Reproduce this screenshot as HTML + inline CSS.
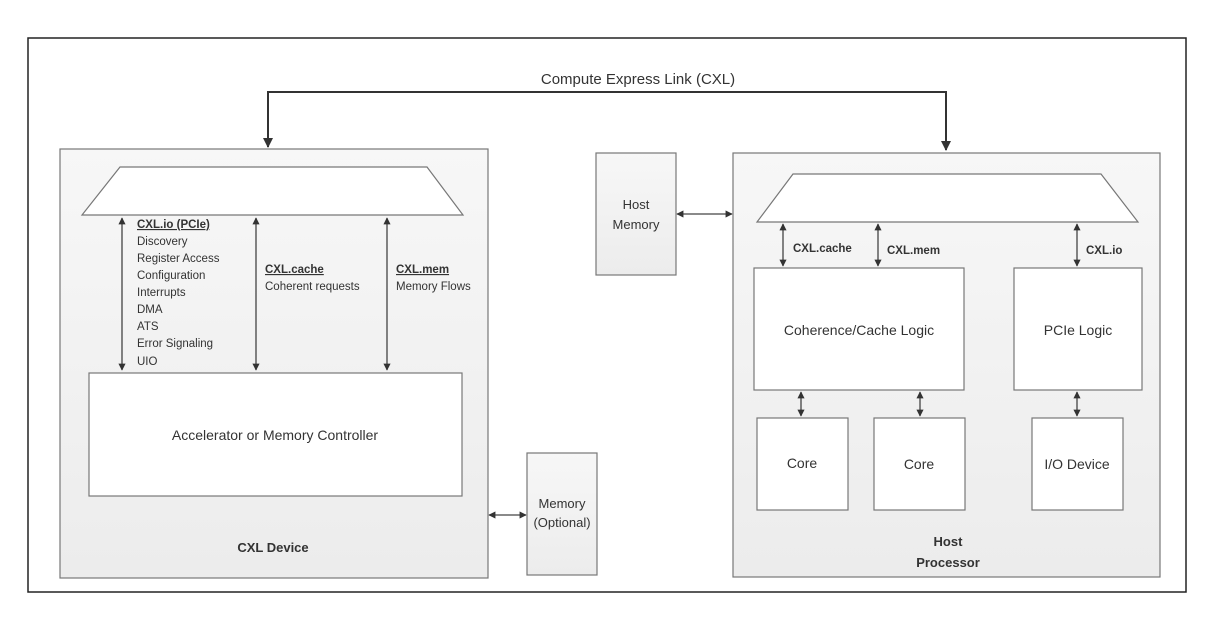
<!DOCTYPE html>
<html><head><meta charset="utf-8"><style>
html,body{margin:0;padding:0;background:#fff;}
svg{display:block;}
text{font-family:"Liberation Sans",sans-serif;fill:#333;}
</style></head><body>
<svg width="1218" height="626" viewBox="0 0 1218 626" xmlns="http://www.w3.org/2000/svg">
<defs>
<linearGradient id="g" x1="0" y1="0" x2="0" y2="1"><stop offset="0" stop-color="#f7f7f7"/><stop offset="1" stop-color="#ececec"/></linearGradient>
<marker id="a" viewBox="0 0 10 10" refX="9" refY="5" markerWidth="5" markerHeight="5" orient="auto-start-reverse"><path d="M0,0L10,5L0,10z" fill="#333"/></marker>
<marker id="b" viewBox="0 0 10 10" refX="9" refY="5" markerWidth="5.5" markerHeight="5.5" orient="auto-start-reverse"><path d="M0,0L10,5L0,10z" fill="#333"/></marker>
</defs>
<rect x="28" y="38" width="1158" height="554" fill="#fff" stroke="#222" stroke-width="1.5"/>
<polyline points="268,147 268,92 946,92 946,150" fill="none" stroke="#333" stroke-width="2" marker-end="url(#a)"/>
<line x1="268" y1="93" x2="268" y2="147" stroke="#333" stroke-width="2" marker-end="url(#a)"/>
<text x="638" y="84" font-size="15" text-anchor="middle">Compute Express Link (CXL)</text>
<rect x="60" y="149" width="428" height="429" fill="url(#g)" stroke="#777" stroke-width="1.2"/>
<polygon points="120,167 427,167 463,215 82,215" fill="#fff" stroke="#777" stroke-width="1.2"/>
<g stroke="#444" stroke-width="1.3" marker-start="url(#b)" marker-end="url(#b)">
<line x1="122" y1="218" x2="122" y2="370"/>
<line x1="256" y1="218" x2="256" y2="370"/>
<line x1="387" y1="218" x2="387" y2="370"/>
</g>
<g font-size="11.5">
<text x="137" y="228" font-weight="bold" text-decoration="underline">CXL.io (PCIe)</text>
<text x="137" y="245">Discovery</text>
<text x="137" y="262">Register Access</text>
<text x="137" y="279">Configuration</text>
<text x="137" y="296">Interrupts</text>
<text x="137" y="313">DMA</text>
<text x="137" y="330">ATS</text>
<text x="137" y="347">Error Signaling</text>
<text x="137" y="365">UIO</text>
<text x="265" y="273" font-weight="bold" text-decoration="underline">CXL.cache</text>
<text x="265" y="290">Coherent requests</text>
<text x="396" y="273" font-weight="bold" text-decoration="underline">CXL.mem</text>
<text x="396" y="290">Memory Flows</text>
</g>
<rect x="89" y="373" width="373" height="123" fill="#fff" stroke="#777" stroke-width="1.2"/>
<text x="275" y="440" font-size="14" text-anchor="middle">Accelerator or Memory Controller</text>
<text x="273" y="552" font-size="13" font-weight="bold" text-anchor="middle">CXL Device</text>
<rect x="527" y="453" width="70" height="122" fill="url(#g)" stroke="#777" stroke-width="1.2"/>
<text x="562" y="508" font-size="13" text-anchor="middle">Memory</text>
<text x="562" y="527" font-size="13" text-anchor="middle">(Optional)</text>
<line x1="489" y1="515" x2="526" y2="515" stroke="#444" stroke-width="1.3" marker-start="url(#b)" marker-end="url(#b)"/>
<rect x="596" y="153" width="80" height="122" fill="url(#g)" stroke="#777" stroke-width="1.2"/>
<text x="636" y="209" font-size="13" text-anchor="middle">Host</text>
<text x="636" y="229" font-size="13" text-anchor="middle">Memory</text>
<line x1="677" y1="214" x2="732" y2="214" stroke="#444" stroke-width="1.3" marker-start="url(#b)" marker-end="url(#b)"/>
<rect x="733" y="153" width="427" height="424" fill="url(#g)" stroke="#777" stroke-width="1.2"/>
<polygon points="793,174 1101,174 1138,222 757,222" fill="#fff" stroke="#777" stroke-width="1.2"/>
<g stroke="#444" stroke-width="1.3" marker-start="url(#b)" marker-end="url(#b)">
<line x1="783" y1="224" x2="783" y2="266"/>
<line x1="878" y1="224" x2="878" y2="266"/>
<line x1="1077" y1="224" x2="1077" y2="266"/>
<line x1="801" y1="392" x2="801" y2="416"/>
<line x1="920" y1="392" x2="920" y2="416"/>
<line x1="1077" y1="392" x2="1077" y2="416"/>
</g>
<g font-size="11.5" font-weight="bold">
<text x="793" y="252">CXL.cache</text>
<text x="887" y="254">CXL.mem</text>
<text x="1086" y="254">CXL.io</text>
</g>
<rect x="754" y="268" width="210" height="122" fill="#fff" stroke="#777" stroke-width="1.2"/>
<text x="859" y="335" font-size="14" text-anchor="middle">Coherence/Cache Logic</text>
<rect x="1014" y="268" width="128" height="122" fill="#fff" stroke="#777" stroke-width="1.2"/>
<text x="1078" y="335" font-size="14" text-anchor="middle">PCIe Logic</text>
<rect x="757" y="418" width="91" height="92" fill="#fff" stroke="#777" stroke-width="1.2"/>
<text x="802" y="468" font-size="14" text-anchor="middle">Core</text>
<rect x="874" y="418" width="91" height="92" fill="#fff" stroke="#777" stroke-width="1.2"/>
<text x="919" y="469" font-size="14" text-anchor="middle">Core</text>
<rect x="1032" y="418" width="91" height="92" fill="#fff" stroke="#777" stroke-width="1.2"/>
<text x="1077" y="469" font-size="14" text-anchor="middle">I/O Device</text>
<text x="948" y="546" font-size="13" font-weight="bold" text-anchor="middle">Host</text>
<text x="948" y="567" font-size="13" font-weight="bold" text-anchor="middle">Processor</text>
</svg>
</body></html>
